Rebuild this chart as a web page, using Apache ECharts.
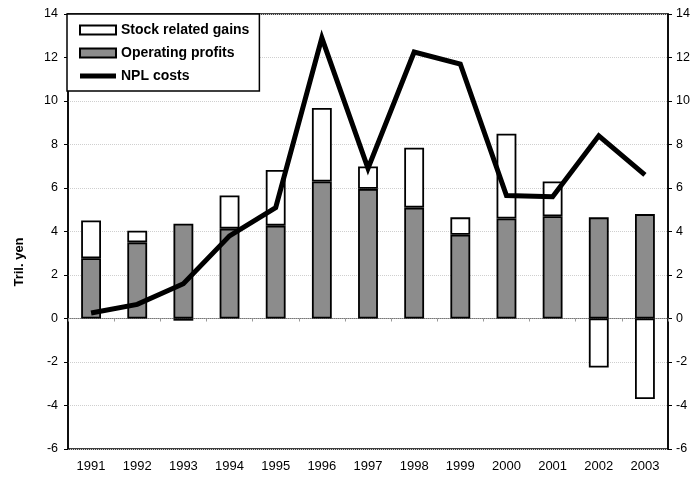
<!DOCTYPE html>
<html>
<head>
<meta charset="utf-8">
<script src="https://cdn.jsdelivr.net/npm/echarts@6/dist/echarts.min.js"></script>
<style>
  html, body { margin: 0; padding: 0; background: #fff; }
  #chart { width: 696px; height: 481px; }
</style>
</head>
<body>
<div id="chart"></div>
<script>
  var years = ['1991', '1992', '1993', '1994', '1995', '1996', '1997', '1998', '1999', '2000', '2001', '2002', '2003']
  var operatingProfits = [2.77, 3.5, 4.36, 4.13, 4.27, 6.3, 5.96, 5.1, 3.85, 4.6, 4.7, 4.65, 4.8]
  var stockGains = [1.74, 0.54, -0.1, 1.53, 2.56, 3.38, 1.03, 2.75, 0.8, 3.9, 1.6, -2.25, -3.7]
  var nplCosts = [0.25, 0.65, 1.6, 3.8, 5.1, 12.9, 6.9, 12.25, 11.7, 5.65, 5.6, 8.4, 6.6]

  var font = 'Liberation Sans, Arial, sans-serif'

  var chart = echarts.init(document.getElementById('chart'))

  chart.setOption({
    animation: false,
    backgroundColor: '#fff',
    grid: {
      left: 68, right: 28, top: 14, bottom: 32,
      show: true,
      borderColor: '#000',
      borderWidth: 1.5,
      backgroundColor: 'transparent'
    },
    legend: {
      orient: 'vertical',
      left: 67,
      top: 14,
      padding: [9, 10, 8, 12],
      itemGap: 9,
      itemWidth: 36,
      itemHeight: 9,
      symbolKeepAspect: true,
      backgroundColor: '#fff',
      borderColor: '#000',
      borderWidth: 1.5,
      textStyle: { fontFamily: font, fontWeight: 'bold', fontSize: 14, color: '#000' },
      data: [
        { name: 'Stock related gains', icon: 'rect' },
        { name: 'Operating profits', icon: 'rect' },
        { name: 'NPL costs', icon: 'path://M0,0 L36,0 L36,5 L0,5 Z', itemStyle: { color: '#000', borderWidth: 0 } }
      ]
    },
    graphic: [
      {
        type: 'text',
        x: 19, y: 262,
        rotation: Math.PI / 2,
        style: {
          text: 'Tril. yen',
          fontFamily: font, fontWeight: 'bold', fontSize: 13, fill: '#000',
          align: 'center', verticalAlign: 'middle'
        }
      }
    ],
    xAxis: [
      {
        type: 'category',
        data: years,
        position: 'bottom',
        axisLine: { onZero: false, show: false },
        axisTick: { show: false },
        axisLabel: { margin: 11, fontFamily: font, fontSize: 13, color: '#000' }
      },
      {
        type: 'category',
        data: years,
        position: 'bottom',
        axisLine: { onZero: true, lineStyle: { color: '#777', width: 1, type: 'dotted' } },
        axisTick: { show: true, length: 3, lineStyle: { color: '#999' } },
        axisLabel: { show: false }
      }
    ],
    yAxis: [
      {
        type: 'value',
        min: -6, max: 14, interval: 2,
        axisLine: { show: true, lineStyle: { color: '#000', width: 1.5 } },
        axisTick: { show: true, length: 4, lineStyle: { color: '#000' } },
        axisLabel: { margin: 10, fontFamily: font, fontSize: 12.5, color: '#000' },
        splitLine: { show: true, lineStyle: { color: '#cfcfcf', type: 'dotted', width: 1 } }
      },
      {
        type: 'value',
        min: -6, max: 14, interval: 2,
        position: 'right',
        axisLine: { show: true, lineStyle: { color: '#000', width: 1.5 } },
        axisTick: { show: true, length: 4, lineStyle: { color: '#000' } },
        axisLabel: { margin: 8, fontFamily: font, fontSize: 12.5, color: '#000' },
        splitLine: { show: false }
      }
    ],
    series: [
      {
        name: 'Operating profits',
        type: 'bar',
        stack: 'total',
        barWidth: '43%',
        data: operatingProfits,
        itemStyle: { color: '#8c8c8c', borderColor: '#000', borderWidth: 1.8 }
      },
      {
        name: 'Stock related gains',
        type: 'bar',
        stack: 'total',
        barWidth: '43%',
        data: stockGains,
        itemStyle: { color: '#fff', borderColor: '#000', borderWidth: 1.8 }
      },
      {
        name: 'NPL costs',
        type: 'line',
        data: nplCosts,
        symbol: 'none',
        color: '#000',
        lineStyle: { color: '#000', width: 5, join: 'miter' },
        z: 5
      }
    ]
  })
</script>
</body>
</html>
